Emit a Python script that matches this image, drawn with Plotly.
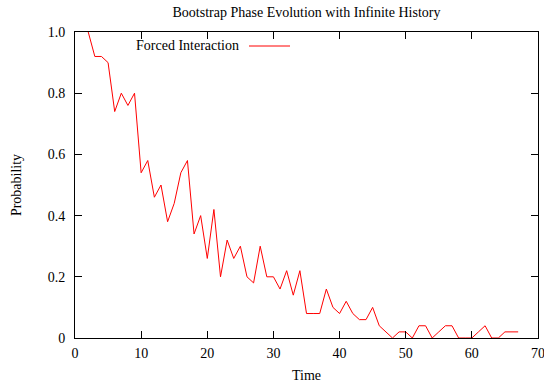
import plotly.graph_objects as go

time = list(range(2, 68))
prob = [1.00, 0.92, 0.92, 0.90, 0.74, 0.80, 0.76, 0.80, 0.54, 0.58,
        0.46, 0.50, 0.38, 0.44, 0.54, 0.58, 0.34, 0.40, 0.26, 0.42,
        0.20, 0.32, 0.26, 0.30, 0.20, 0.18, 0.30, 0.20, 0.20, 0.16,
        0.22, 0.14, 0.22, 0.08, 0.08, 0.08, 0.16, 0.10, 0.08, 0.12,
        0.08, 0.06, 0.06, 0.10, 0.04, 0.02, 0.00, 0.02, 0.02, 0.00,
        0.04, 0.04, 0.00, 0.02, 0.04, 0.04, 0.00, 0.00, 0.00, 0.02,
        0.04, 0.00, 0.00, 0.02, 0.02, 0.02]
series_name = "Forced Interaction"
x_ticks = [0, 10, 20, 30, 40, 50, 60, 70]
y_ticks = [0, 0.2, 0.4, 0.6, 0.8, 1.0]
y_labels = ["0", "0.2", "0.4", "0.6", "0.8", "1.0"]

FONT = "Liberation Serif, Times New Roman, serif"
FS = 14

fig = go.Figure()
fig.add_trace(go.Scatter(x=time, y=prob, mode="lines", name=series_name,
                         line=dict(color="#ff0000", width=1), showlegend=False,
                         cliponaxis=True))

W, H = 544, 383
L, R, T, B = 75, 6, 32, 45

axis_common = dict(showgrid=False, zeroline=False, showline=True, linecolor="black",
                   linewidth=1, mirror="ticks", ticks="inside", ticklen=7,
                   tickcolor="black", tickwidth=1, ticklabeloverflow="allow",
                   automargin=False,
                   tickfont=dict(family=FONT, size=FS, color="black"))

fig.update_xaxes(range=[0, 70], tickvals=x_ticks, ticktext=[str(v) for v in x_ticks],
                 ticklabelstandoff=2,
                 title=dict(text="Time", font=dict(family=FONT, size=FS, color="black"), standoff=10),
                 **axis_common)
fig.update_yaxes(range=[0, 1], tickvals=y_ticks, ticktext=y_labels,
                 ticklabelstandoff=6,
                 title=dict(text="Probability", font=dict(family=FONT, size=FS, color="black"), standoff=22),
                 **axis_common)

# legend entry (text followed by line sample), gnuplot style
pw = W - L - R
ph = H - T - B
def px_to_paper_x(px):
    return (px - L) / pw
def px_to_paper_y(py):
    return (H - B - py) / ph

fig.add_annotation(x=px_to_paper_x(241), y=px_to_paper_y(46), xref="paper", yref="paper",
                   text=series_name, showarrow=False, xanchor="right", yanchor="middle",
                   font=dict(family=FONT, size=FS, color="black"))
fig.add_shape(type="line", xref="paper", yref="paper",
              x0=px_to_paper_x(249), x1=px_to_paper_x(290),
              y0=px_to_paper_y(46), y1=px_to_paper_y(46),
              line=dict(color="#ff0000", width=1))

fig.update_layout(
    width=W, height=H,
    margin=dict(l=L, r=R, t=T, b=B),
    paper_bgcolor="white", plot_bgcolor="white",
    title=dict(text="Bootstrap Phase Evolution with Infinite History",
               x=(L + pw / 2) / W, xanchor="center", y=1 - 12 / H, yanchor="middle",
               font=dict(family=FONT, size=FS, color="black")),
    font=dict(family=FONT, size=FS, color="black"),
)

fig.write_html("out.html")
